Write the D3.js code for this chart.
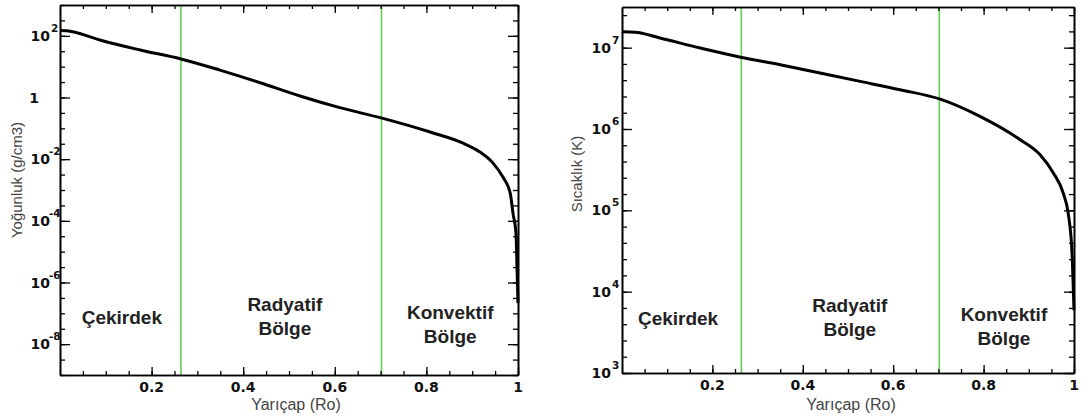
<!DOCTYPE html>
<html><head><meta charset="utf-8">
<script src="https://cdn.jsdelivr.net/npm/d3@7"></script>
<style>body{margin:0;background:#fff} svg{display:block}</style>
</head><body><svg id="c" width="1082" height="419"></svg>
<script>
// ---- data ----
const radiusDensity = [0, 0.014, 0.028, 0.087, 0.175, 0.264, 0.349, 0.437, 0.524, 0.611, 0.703, 0.808, 0.88, 0.917, 0.945, 0.967, 0.983, 0.989, 0.9956, 0.9978, 1.0];
const density = [148, 146, 135, 73.3, 34.7, 17.8, 7.76, 3.02, 1.12, 0.468, 0.214, 0.0759, 0.0331, 0.017, 0.00759, 0.00263, 7.9e-4, 1.78e-4, 3.98e-5, 3.16e-6, 2.14e-7];
const radiusTemp = [0, 0.029, 0.084, 0.173, 0.265, 0.35, 0.438, 0.527, 0.615, 0.704, 0.792, 0.881, 0.925, 0.954, 0.976, 0.987, 0.9956, 0.9978, 1.0];
const temperature = [1.567e7, 1.55e7, 1.315e7, 9.91e6, 7.59e6, 6.17e6, 4.88e6, 3.85e6, 3.04e6, 2.33e6, 1.43e6, 7.38e5, 4.82e5, 2.9e5, 1.64e5, 9.3e4, 3.0e4, 1.41e4, 5.9e3];
const xTickLabels = [0.2, 0.4, 0.6, 0.8, 1];
const densityLabelExps = [-8, -6, -4, -2, 0, 2];
const tempLabelExps = [3, 4, 5, 6, 7];
const zoneBounds = [0.264, 0.702];
const zoneCore = ["Çekirdek"];
const zoneRad = ["Radyatif", "Bölge"];
const zoneConv = ["Konvektif", "Bölge"];
const xTitle = "Yarıçap (Ro)";
const densityTitle = "Yoğunluk (g/cm3)";
const tempTitle = "Sıcaklık (K)";

const svg = d3.select("#c");
svg.append("rect").attr("width",1082).attr("height",419).attr("fill","#fff");

const panels = [
  {x0:60, x1:518, yt:5, yb:375, dom:[1e-9,1e3], xs:radiusDensity, ys:density,
   minorStep:0.5, majorExps:densityLabelExps, title:densityTitle, titlePos:[18,180],
   xTitleX:296, lab10End:50,
   zones:[{t:zoneCore,x:0.135,y:[324]},{t:zoneRad,x:0.491,y:[311,335]},{t:zoneConv,x:0.852,y:[319,343]}]},
  {x0:622, x1:1074, yt:7, yb:373, dom:[1e3,Math.pow(10,7.5)], xs:radiusTemp, ys:temperature,
   minorStep:0.2, majorExps:tempLabelExps, title:tempTitle, titlePos:[578,174],
   xTitleX:851, lab10End:611,
   zones:[{t:zoneCore,x:0.124,y:[325]},{t:zoneRad,x:0.504,y:[312,336]},{t:zoneConv,x:0.845,y:[321,345]}]}
];

const tickFont = "'DejaVu Sans', Verdana, sans-serif";
const textFont = "'Liberation Sans', Arial, Helvetica, sans-serif";

panels.forEach(p => {
  const x = d3.scaleLinear().domain([0,1]).range([p.x0,p.x1]);
  const y = d3.scaleLog().domain(p.dom).range([p.yb,p.yt]);
  const g = svg.append("g");

  // zone boundaries
  g.selectAll("line.zone").data(zoneBounds).enter().append("line")
    .attr("x1",d=>x(d)).attr("x2",d=>x(d)).attr("y1",p.yt).attr("y2",p.yb)
    .attr("stroke","#66cc55").attr("stroke-width",1.6);

  // curve
  const pts = p.xs.map((r,i)=>[r,p.ys[i]]);
  g.append("path").datum(pts)
    .attr("d", d3.line().x(d=>x(d[0])).y(d=>y(d[1])).curve(d3.curveMonotoneX))
    .attr("fill","none").attr("stroke","#000").attr("stroke-width",3).attr("stroke-linejoin","round");

  // ticks
  const lo = Math.log10(p.dom[0]), hi = Math.log10(p.dom[1]);
  const yMinor = d3.range(lo, hi+1e-9, p.minorStep).map(e=>Math.pow(10,+e.toFixed(3)));
  const yMajor = p.majorExps.map(e=>Math.pow(10,e));
  const xMinor = d3.range(0.05, 1.0001, 0.05);
  const style = sel => { sel.selectAll("path").attr("stroke","#000").attr("stroke-width",1.6);
                         sel.selectAll("line").attr("stroke","#000").attr("stroke-width",1.3); };
  const mk = (axis, tr) => g.append("g").attr("transform",tr).call(axis.tickFormat("").tickSizeOuter(0)).call(style);
  mk(d3.axisBottom(x).tickValues(xMinor).tickSize(-4), `translate(0,${p.yb})`);
  mk(d3.axisBottom(x).tickValues(xTickLabels).tickSize(-8), `translate(0,${p.yb})`);
  mk(d3.axisTop(x).tickValues(xMinor).tickSize(-4), `translate(0,${p.yt})`);
  mk(d3.axisTop(x).tickValues(xTickLabels).tickSize(-8), `translate(0,${p.yt})`);
  mk(d3.axisLeft(y).tickValues(yMinor).tickSize(-5), `translate(${p.x0},0)`);
  mk(d3.axisLeft(y).tickValues(yMajor).tickSize(-10), `translate(${p.x0},0)`);
  mk(d3.axisRight(y).tickValues(yMinor).tickSize(-5), `translate(${p.x1},0)`);
  mk(d3.axisRight(y).tickValues(yMajor).tickSize(-10), `translate(${p.x1},0)`);

  // x tick labels
  g.selectAll("text.xl").data(xTickLabels).enter().append("text")
    .attr("x",d=>x(d)).attr("y",p.yb+17).attr("text-anchor","middle")
    .attr("font-family",tickFont).attr("font-weight","bold").attr("font-size",14).attr("fill","#111")
    .text(d=>String(d));

  // y tick labels (10^n)
  p.majorExps.forEach(e => {
    const ty = y(Math.pow(10,e));
    if (e === 0) {
      g.append("text").attr("x",p.lab10End-11).attr("y",ty+5).attr("text-anchor","end")
        .attr("font-family",tickFont).attr("font-weight","bold").attr("font-size",14).attr("fill","#111").text("1");
    } else {
      g.append("text").attr("x",p.lab10End).attr("y",ty+5).attr("text-anchor","end")
        .attr("font-family",tickFont).attr("font-weight","bold").attr("font-size",14).attr("fill","#111").text("10");
      g.append("text").attr("x",p.lab10End+ (e<0?-1:1)).attr("y",ty-4).attr("text-anchor","start")
        .attr("font-family",tickFont).attr("font-weight","bold").attr("font-size",10.5).attr("fill","#111").text(e<0?("-"+(-e)):String(e));
    }
  });

  // axis titles
  g.append("text").attr("transform",`translate(${p.titlePos[0]},${p.titlePos[1]}) rotate(-90)`)
    .attr("text-anchor","middle").attr("dominant-baseline","middle")
    .attr("font-family",textFont).attr("font-size",15).attr("fill","#444").text(p.title);
  g.append("text").attr("x",p.xTitleX).attr("y",410).attr("text-anchor","middle")
    .attr("font-family",textFont).attr("font-size",16).attr("fill","#444").text(xTitle);

  // zone names
  p.zones.forEach(z => {
    z.t.forEach((line,i) => {
      g.append("text").attr("x",x(z.x)).attr("y",z.y[i]).attr("text-anchor","middle")
        .attr("font-family",textFont).attr("font-weight","bold").attr("font-size",19).attr("fill","#222").text(line);
    });
  });
});
</script></body></html>
